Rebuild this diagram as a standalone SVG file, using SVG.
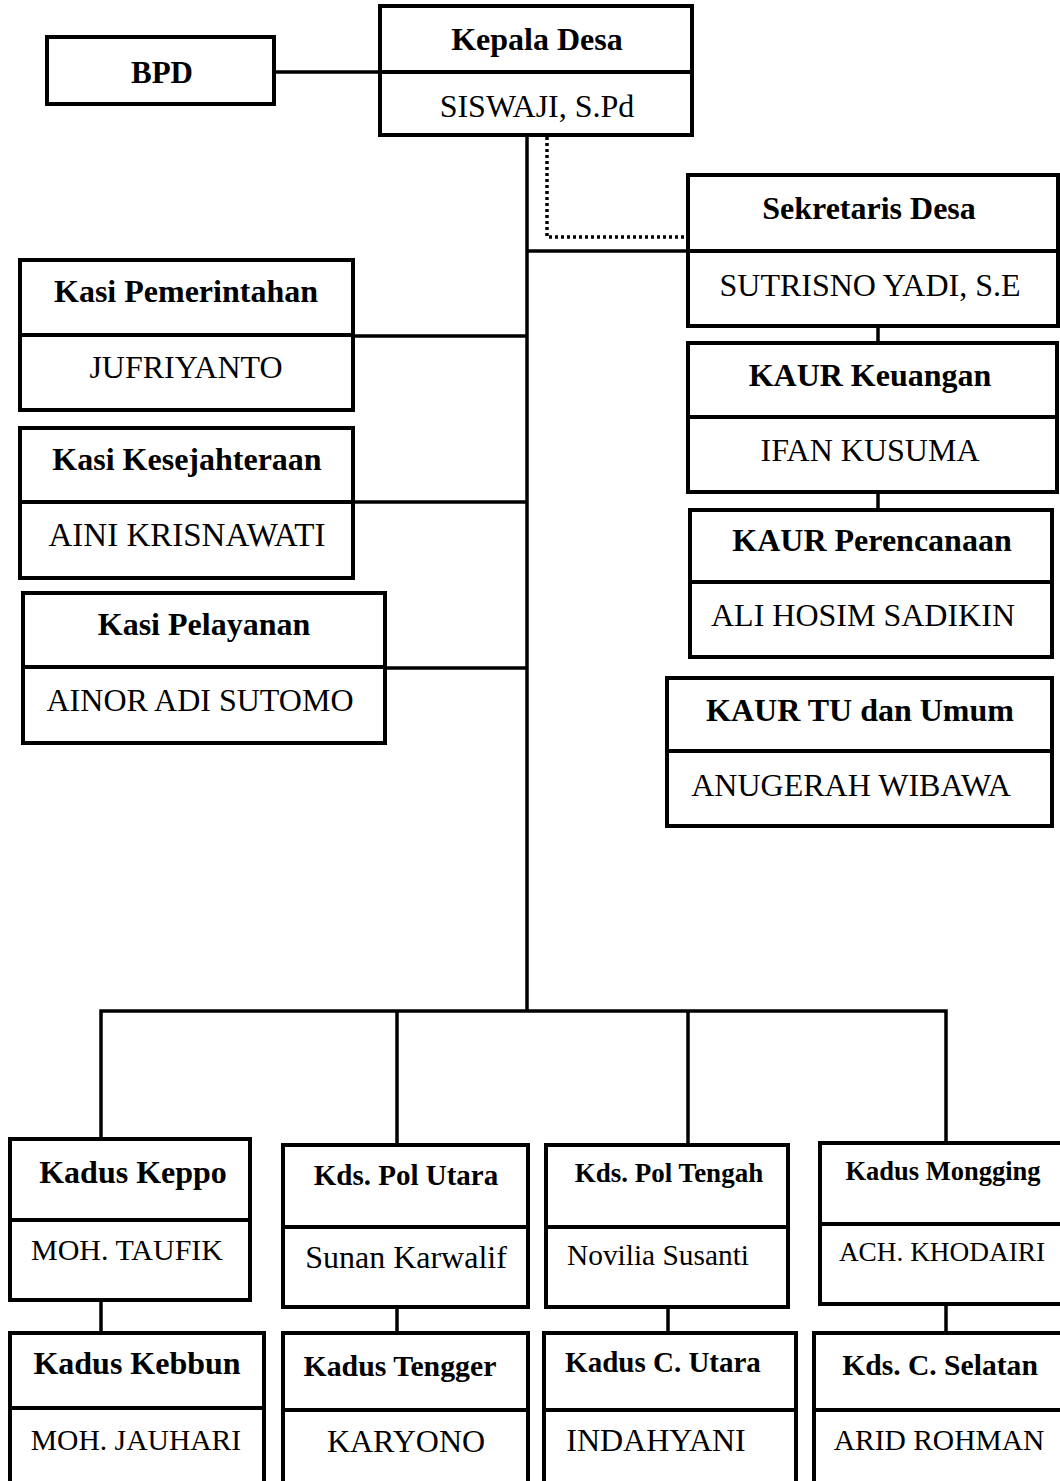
<svg xmlns="http://www.w3.org/2000/svg" width="1060" height="1481" viewBox="0 0 1060 1481">
<style>
.box{fill:#fff;stroke:#000;stroke-width:4}
.div{stroke:#000;stroke-width:4}
.ln{stroke:#000;stroke-width:3.5;fill:none}
.dot{stroke:#000;stroke-width:3.5;fill:none;stroke-dasharray:3 3}
.t{font-family:"Liberation Serif","Times New Roman",serif;font-weight:bold;font-size:32px;text-anchor:middle;fill:#000}
.n{font-family:"Liberation Serif","Times New Roman",serif;font-size:32px;text-anchor:middle;fill:#000}
</style>
<rect width="1060" height="1481" fill="#fff"/>
<g id="connectors">
<line class="ln" x1="274" y1="72" x2="380" y2="72"/>
<line class="ln" x1="527" y1="135" x2="527" y2="1011"/>
<polyline class="dot" points="547,137 547,237 688,237"/>
<line class="ln" x1="527" y1="251" x2="688" y2="251"/>
<line class="ln" x1="353" y1="336" x2="527" y2="336"/>
<line class="ln" x1="353" y1="502" x2="527" y2="502"/>
<line class="ln" x1="385" y1="668" x2="527" y2="668"/>
<line class="ln" x1="878" y1="326" x2="878" y2="343"/>
<line class="ln" x1="878" y1="492" x2="878" y2="510"/>
<polyline class="ln" points="101,1139 101,1011 946,1011 946,1143"/>
<line class="ln" x1="397" y1="1011" x2="397" y2="1144"/>
<line class="ln" x1="688" y1="1011" x2="688" y2="1144"/>
<line class="ln" x1="101" y1="1300" x2="101" y2="1333"/>
<line class="ln" x1="397" y1="1307" x2="397" y2="1333"/>
<line class="ln" x1="668" y1="1307" x2="668" y2="1333"/>
<line class="ln" x1="946" y1="1305" x2="946" y2="1333"/>
</g>
<g id="bpd">
<rect class="box" x="47" y="37" width="227" height="67"/>
<text class="t" x="162" y="83" style="font-size:31px">BPD</text>
</g>
<g id="kepala-desa">
<rect class="box" x="380" y="6" width="312" height="129"/>
<line class="div" x1="380" y1="72" x2="692" y2="72"/>
<text class="t" x="537" y="50">Kepala Desa</text>
<text class="n" x="537" y="117">SISWAJI, S.Pd</text>
</g>
<g id="sekretaris-desa">
<rect class="box" x="688" y="175" width="370" height="151"/>
<line class="div" x1="688" y1="251" x2="1058" y2="251"/>
<text class="t" x="869" y="219">Sekretaris Desa</text>
<text class="n" x="870" y="296">SUTRISNO YADI, S.E</text>
</g>
<g id="kaur-keuangan">
<rect class="box" x="688" y="343" width="369" height="149"/>
<line class="div" x1="688" y1="417" x2="1057" y2="417"/>
<text class="t" x="870" y="386">KAUR Keuangan</text>
<text class="n" x="870" y="461">IFAN KUSUMA</text>
</g>
<g id="kaur-perencanaan">
<rect class="box" x="690" y="510" width="362" height="147"/>
<line class="div" x1="690" y1="582" x2="1052" y2="582"/>
<text class="t" x="872" y="551">KAUR Perencanaan</text>
<text class="n" x="863" y="626">ALI HOSIM SADIKIN</text>
</g>
<g id="kaur-tu-umum">
<rect class="box" x="667" y="678" width="385" height="148"/>
<line class="div" x1="667" y1="751" x2="1052" y2="751"/>
<text class="t" x="860" y="721">KAUR TU dan Umum</text>
<text class="n" x="851" y="796">ANUGERAH WIBAWA</text>
</g>
<g id="kasi-pemerintahan">
<rect class="box" x="20" y="260" width="333" height="150"/>
<line class="div" x1="20" y1="335" x2="353" y2="335"/>
<text class="t" x="186" y="302">Kasi Pemerintahan</text>
<text class="n" x="186" y="378">JUFRIYANTO</text>
</g>
<g id="kasi-kesejahteraan">
<rect class="box" x="20" y="428" width="333" height="150"/>
<line class="div" x1="20" y1="502" x2="353" y2="502"/>
<text class="t" x="187" y="470">Kasi Kesejahteraan</text>
<text class="n" x="187" y="546" style="font-size:33px">AINI KRISNAWATI</text>
</g>
<g id="kasi-pelayanan">
<rect class="box" x="23" y="593" width="362" height="150"/>
<line class="div" x1="23" y1="667" x2="385" y2="667"/>
<text class="t" x="204" y="635">Kasi Pelayanan</text>
<text class="n" x="200" y="711">AINOR ADI SUTOMO</text>
</g>
<g id="kadus-keppo">
<rect class="box" x="10" y="1139" width="240" height="161"/>
<line class="div" x1="10" y1="1220" x2="250" y2="1220"/>
<text class="t" x="133" y="1183">Kadus Keppo</text>
<text class="n" x="127" y="1260" style="font-size:30px">MOH. TAUFIK</text>
</g>
<g id="kadus-kebbun">
<rect class="box" x="10" y="1333" width="254" height="160"/>
<line class="div" x1="10" y1="1408" x2="264" y2="1408"/>
<text class="t" x="137" y="1374">Kadus Kebbun</text>
<text class="n" x="136" y="1450" style="font-size:29.6px">MOH. JAUHARI</text>
</g>
<g id="kds-pol-utara">
<rect class="box" x="283" y="1145" width="245" height="162"/>
<line class="div" x1="283" y1="1227" x2="528" y2="1227"/>
<text class="t" x="406" y="1185" style="font-size:29px">Kds. Pol Utara</text>
<text class="n" x="406" y="1268">Sunan Karwalif</text>
</g>
<g id="kadus-tengger">
<rect class="box" x="283" y="1333" width="245" height="160"/>
<line class="div" x1="283" y1="1410" x2="528" y2="1410"/>
<text class="t" x="400" y="1376" style="font-size:29.8px">Kadus Tengger</text>
<text class="n" x="406" y="1452">KARYONO</text>
</g>
<g id="kds-pol-tengah">
<rect class="box" x="546" y="1145" width="242" height="162"/>
<line class="div" x1="546" y1="1227" x2="788" y2="1227"/>
<text class="t" x="669" y="1182" style="font-size:27px">Kds. Pol Tengah</text>
<text class="n" x="658" y="1265" style="font-size:29.4px">Novilia Susanti</text>
</g>
<g id="kadus-c-utara">
<rect class="box" x="544" y="1333" width="252" height="160"/>
<line class="div" x1="544" y1="1410" x2="796" y2="1410"/>
<text class="t" x="663" y="1372" style="font-size:29px">Kadus C. Utara</text>
<text class="n" x="656" y="1451">INDAHYANI</text>
</g>
<g id="kadus-mongging">
<rect class="box" x="820" y="1143" width="250" height="161"/>
<line class="div" x1="820" y1="1224" x2="1070" y2="1224"/>
<text class="t" x="943" y="1180" style="font-size:26.5px">Kadus Mongging</text>
<text class="n" x="942" y="1261" style="font-size:27.3px">ACH. KHODAIRI</text>
</g>
<g id="kds-c-selatan">
<rect class="box" x="814" y="1333" width="256" height="160"/>
<line class="div" x1="814" y1="1410" x2="1070" y2="1410"/>
<text class="t" x="940" y="1375" style="font-size:29.6px">Kds. C. Selatan</text>
<text class="n" x="939" y="1450" style="font-size:29.5px">ARID ROHMAN</text>
</g>
</svg>
